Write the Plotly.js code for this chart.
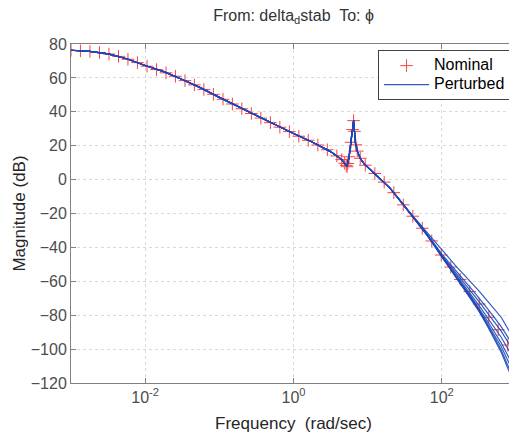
<!DOCTYPE html>
<html>
<head>
<meta charset="utf-8">
<script src="https://cdn.plot.ly/plotly-3.0.1.min.js"></script>
<style>
html,body{margin:0;padding:0;overflow:hidden;background:#fff;width:509px;height:433px;}
#chart{width:520px;height:433px;}
</style>
</head>
<body>
<div id="chart"></div>
<script>
// Nominal response markers (rad/sec, dB)
const freqNominal = [0.00100,0.00134,0.00180,0.00242,0.00325,0.00437,0.00586,0.00787,0.0106,0.0142,
  0.0191,0.0256,0.0344,0.0461,0.0619,0.0832,0.112,0.150,0.201,0.270,0.363,0.488,0.655,0.879,
  1.18,1.58,2.13,2.86,3.84,4.47,4.90,5.15,5.28,5.40,5.62,5.96,6.24,6.46,6.64,6.92,7.24,7.94,9.29,
  12.5,16.7,22.5,30.2,40.6,54.5,73.1,98.2,132,177,238,319,429,575,773];
const magNominal = [76.3,76.0,75.6,75.0,74.1,72.7,71.0,69.0,66.9,64.9,
  63.0,61.0,58.4,55.9,53.2,50.3,47.4,44.6,41.8,39.0,36.3,33.6,30.9,28.3,
  25.6,23.2,20.4,17.6,14.0,11.8,9.6,8.4,7.6,9.5,13.5,22.0,29.5,34.8,28.5,20.5,16.8,12.6,8.5,
  3.6,-1.5,-7.7,-14.9,-21.6,-28.7,-36.2,-44.5,-51.6,-58.9,-66.1,-73.4,-81.2,-88.6,-97.6];

// Perturbed responses: common low-frequency part
const freqBase = [0.001,0.00178,0.00316,0.00562,0.01,0.0178,0.0316,0.0562,0.1,0.178,0.316,0.562,
  1,1.78,3.16,3.98,4.47,4.90,5.28,5.62,5.96,6.24,6.46,6.64,6.84,7.24,7.94,8.91,10,12.6,15.8,20.0,25.1];
const magBase = [76.3,75.6,74.2,71.3,67.3,63.7,59.1,54.1,48.5,43.0,37.6,32.5,
  27.2,22.2,16.5,13.6,11.8,9.6,7.6,13.5,22.0,29.5,34.8,28.5,21.6,16.8,12.6,9.4,7.3,3.5,-0.5,-5.0,-10.4];

// Perturbed responses: high-frequency part, one array per perturbed model
const freqTail = [31.6,39.8,50.1,63.1,79.4,100,126,158,200,251,316,398,501,631,794,1000];
const tailA = [-16.0,-20.9,-26.0,-31.1,-36.3,-41.9,-46.6,-51.5,-56.2,-60.8,-65.6,-70.8,-75.9,-81.2,-88.7,-95.1];
const tailB = [-16.0,-21.1,-26.5,-32.0,-37.8,-44.0,-49.1,-54.4,-59.5,-64.5,-69.7,-75.2,-80.9,-86.7,-93.5,-100.2];
const tailC = [-16.0,-21.2,-26.6,-32.3,-38.3,-44.7,-50.1,-55.7,-61.1,-66.5,-71.9,-77.7,-83.5,-89.4,-96.4,-103.3];
const tailD = [-16.0,-21.2,-26.8,-32.5,-38.7,-45.3,-51.0,-56.9,-62.7,-68.3,-74.2,-80.4,-86.6,-93.0,-100.5,-107.9];
const tailE = [-16.0,-21.2,-26.8,-32.6,-38.8,-45.5,-51.4,-57.6,-63.6,-69.5,-75.8,-82.5,-89.3,-96.3,-104.6,-112.8];
const tailF = [-16.0,-21.2,-26.8,-32.6,-38.9,-45.6,-51.6,-57.9,-64.0,-70.1,-76.7,-83.7,-90.9,-98.5,-107.6,-116.6];
const tailG = [-16.0,-21.2,-26.8,-32.6,-38.9,-45.7,-51.7,-58.1,-64.3,-70.5,-77.3,-84.7,-92.4,-100.6,-110.6,-120.6];
const tailH = [-16.0,-21.2,-26.8,-32.6,-38.9,-45.8,-51.8,-58.2,-64.5,-70.7,-77.6,-85.2,-93.2,-101.8,-112.3,-122.6];
const perturbedTails = [tailA,tailB,tailC,tailD,tailE,tailF,tailG,tailH];

const xTickVals = [0.01,1,100];
const xTickText = ['10<sup>-2</sup>','10<sup>0</sup>','10<sup>2</sup>'];
const yTickVals = [-120,-100,-80,-60,-40,-20,0,20,40,60,80];

const traces = [{
  type:'scatter', mode:'markers', name:'<span style="font-size:16px">Nominal</span>',
  x:freqNominal, y:magNominal,
  marker:{symbol:'cross-thin', size:9, line:{color:'#ff4040', width:1}, color:'#ff4040'}
}];
perturbedTails.forEach((tail,i)=>{
  traces.push({
    type:'scatter', mode:'lines', name:'<span style="font-size:16px">Perturbed</span>',
    legendgroup:'pert', showlegend:i===0,
    x:freqBase.concat(freqTail), y:magBase.concat(tail),
    line:{color:'rgba(28,72,185,0.9)', width:1.2}
  });
});

const axisCommon = {
  showline:true, linecolor:'#808080', linewidth:1, mirror:'ticks',
  ticks:'inside', ticklen:5, tickcolor:'#808080',
  showgrid:true, gridcolor:'#d9d9d9', griddash:'dot', gridwidth:1,
  zeroline:false,
  tickfont:{family:'Liberation Sans, Arial, sans-serif', size:16, color:'#4d4d4d'}
};

const layout = {
  width:520, height:433,
  margin:{l:71, r:4, t:44, b:50},
  paper_bgcolor:'#ffffff', plot_bgcolor:'#ffffff',
  font:{family:'Liberation Sans, Arial, sans-serif'},
  title:{text:'From: delta<sub>d</sub>stab  To: \u03d5', x:0.5, xref:'paper', xanchor:'center', y:0.965, yanchor:'middle',
    font:{size:16, color:'#333333'}},
  xaxis:Object.assign({}, axisCommon, {
    type:'log', range:[-3,3], tickvals:xTickVals, ticktext:xTickText,
    title:{text:'Frequency  (rad/sec)', font:{size:17, color:'#262626'}, standoff:12}
  }),
  yaxis:Object.assign({}, axisCommon, {
    range:[-120,80], tickvals:yTickVals,
    title:{text:'Magnitude (dB)', font:{size:17, color:'#262626'}, standoff:0}
  }),
  showlegend:true,
  legend:{x:0.69, y:0.982, xanchor:'left', yanchor:'top', bgcolor:'#ffffff',
    bordercolor:'#404040', borderwidth:1, itemwidth:45,
    font:{size:12, color:'#000000', family:'Liberation Sans, Arial, sans-serif'}, tracegroupgap:0}
};

Plotly.newPlot('chart', traces, layout, {displayModeBar:false, staticPlot:true});
</script>
</body>
</html>
